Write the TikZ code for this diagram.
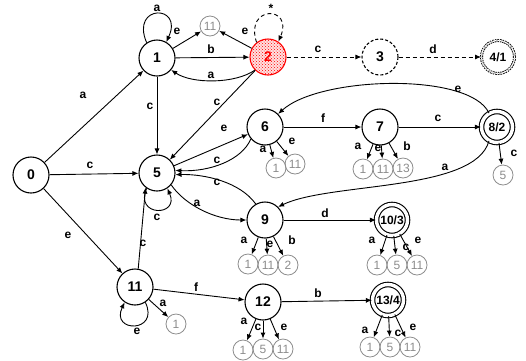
\documentclass[tikz,border=0pt]{standalone}
\usepackage{fontspec}
\setmainfont{Liberation Sans}
\usetikzlibrary{arrows.meta,patterns}
\definecolor{ghost}{RGB}{140,140,140}
\begin{document}
\begin{tikzpicture}[x=1pt,y=-1pt,
  >={Latex[length=6pt,width=5pt]},
  st/.style={circle, draw, line width=1.1pt, minimum size=36pt, inner sep=0pt,
             font=\fontsize{14}{14}\selectfont\bfseries},
  acc/.style={st, minimum size=31pt, double, double distance=3.4pt,
             font=\fontsize{12}{12}\selectfont\bfseries},
  gr/.style={circle, draw=ghost, text=ghost, line width=0.8pt, minimum size=20pt,
             inner sep=0pt, font=\fontsize{12}{12}\selectfont},
  tr/.style={->, line width=0.9pt},
  dtr/.style={tr, dash pattern=on 4pt off 3pt},
  lbl/.style={font=\fontsize{12}{12}\selectfont\bfseries, inner sep=0pt}]
\useasboundingbox (0,0) rectangle (526,360);

% states
\node[st] (n0) at (31,175) {0};
\node[st] (n1) at (157,58) {1};
\node[st, draw=red, text=red, preaction={fill=red!12},
      pattern=crosshatch dots, pattern color=red] (n2) at (268,57) {2};
\node[st, dash pattern=on 3pt off 2pt] (n3) at (380,57) {3};
\node[acc, dash pattern=on 1.5pt off 1pt, double distance=1.2pt, line width=0.9pt,
      minimum size=33pt] (n4) at (498,57) {4/1};
\node[st] (n5) at (157,173) {5};
\node[st] (n6) at (265,127) {6};
\node[st] (n7) at (380,127) {7};
\node[acc] (n8) at (497,127) {8/2};
\node[st] (n9) at (265,220) {9};
\node[acc] (n10) at (392,220) {10/3};
\node[st] (n11) at (135,287) {11};
\node[st] (n12) at (263,302) {12};
\node[acc] (n13) at (388,300) {13/4};

% references to states (grey stubs)
\node[gr] (g1) at (210,26) {11};
\node[gr] (g6a) at (276,168) {1};
\node[gr] (g6e) at (295,164) {11};
\node[gr] (g7a) at (363,169) {1};
\node[gr] (g7e) at (383,169) {11};
\node[gr] (g7b) at (403,168) {13};
\node[gr] (g8c) at (503,175) {5};
\node[gr] (g9a) at (248,264) {1};
\node[gr] (g9e) at (268,265) {11};
\node[gr] (g9b) at (288,265) {2};
\node[gr] (g10a) at (377,265) {1};
\node[gr] (g10c) at (397,265) {5};
\node[gr] (g10e) at (417,265) {11};
\node[gr] (g11a) at (176,324) {1};
\node[gr] (g12a) at (243,350) {1};
\node[gr] (g12c) at (263,349) {5};
\node[gr] (g12e) at (283,349) {11};
\node[gr] (g13a) at (370,347) {1};
\node[gr] (g13c) at (390,347) {5};
\node[gr] (g13e) at (410,347) {11};

% transitions
\draw[tr] (n0) -- (n1) node[lbl] at (83,95) {a};
\draw[tr] (n0) -- (n5) node[lbl] at (90,165) {c};
\draw[tr] (n0) -- (n11) node[lbl] at (68,235) {e};

\draw[tr] (n1.124) .. controls (130,4) and (184,4) .. (n1.60) node[lbl] at (157,8) {a};
\draw[tr] (n1) -- (g1) node[lbl] at (177,31) {e};
\draw[tr] (n2) -- (g1) node[lbl] at (245,31) {e};
\draw[tr] (n1) -- (n2) node[lbl] at (211,49) {b};
\draw[tr] (n2.225) .. controls (235,84) and (192,84) .. (n1.-40) node[lbl] at (211,75) {a};
\draw[dtr] (n2.128) .. controls (244,5) and (294,5) .. (n2.56) node[lbl] at (271,8) {*};
\draw[dtr] (n2) -- (n3) node[lbl] at (318,49) {c};
\draw[dtr] (n3) -- (n4) node[lbl] at (433,49) {d};

\draw[tr] (n1) -- (n5) node[lbl] at (150,106) {c};
\draw[tr] (n2) -- (n5) node[lbl] at (217,102) {c};

\draw[tr] (n5) -- (n6) node[lbl] at (224,128) {e};
\draw[tr] (n6.220) .. controls (242,160) and (210,172) .. (n5.8) node[lbl] at (217,160) {c};
\draw[tr] (n9.120) .. controls (240,182) and (205,174) .. (n5.-5) node[lbl] at (217,182) {c};
\draw[tr] (n5.-40) .. controls (185,205) and (215,220) .. (n9.180) node[lbl] at (197,203) {a};
\draw[tr] (n5.236) .. controls (134,217) and (180,217) .. (n5.-56) node[lbl] at (157,217) {c};

\draw[tr] (n6) -- (n7) node[lbl] at (323,118) {f};
\draw[tr] (n7) -- (n8) node[lbl] at (438,118) {c};
\draw[tr] (n8.120) .. controls (470,72) and (320,76) .. (n6.45) node[lbl] at (458,89) {e};
\draw[tr] (n8.240) .. controls (475,192) and (330,182) .. (n9.45) node[lbl] at (445,167) {a};
\draw[tr] (n8) -- (g8c) node[lbl] at (514,153) {c};

\draw[tr] (n6) -- (g6a) node[lbl] at (263,149) {a};
\draw[tr] (n6) -- (g6e) node[lbl] at (292,141) {e};
\draw[tr] (n7) -- (g7a) node[lbl] at (358,146) {a};
\draw[tr] (n7) -- (g7e) node[lbl] at (378,148) {e};
\draw[tr] (n7) -- (g7b) node[lbl] at (407,146) {b};

\draw[tr] (n9) -- (n10) node[lbl] at (325,213) {d};
\draw[tr] (n9) -- (g9a) node[lbl] at (244,240) {a};
\draw[tr] (n9) -- (g9e) node[lbl] at (270,244) {e};
\draw[tr] (n9) -- (g9b) node[lbl] at (292,240) {b};
\draw[tr] (n10) -- (g10a) node[lbl] at (372,240) {a};
\draw[tr] (n10) -- (g10c) node[lbl] at (406,247) {c};
\draw[tr] (n10) -- (g10e) node[lbl] at (418,240) {e};

\draw[tr] (n11.80) -- (n5.232) node[lbl] at (143,243) {c};
\draw[tr] (n11.-56) .. controls (160,333) and (110,333) .. (n11.236) node[lbl] at (137,331) {e};
\draw[tr] (n11) -- (g11a) node[lbl] at (163,303) {a};
\draw[tr] (n11) -- (n12) node[lbl] at (196,287) {f};
\draw[tr] (n12) -- (n13) node[lbl] at (318,293) {b};

\draw[tr] (n12) -- (g12a) node[lbl] at (244,321) {a};
\draw[tr] (n12) -- (g12c) node[lbl] at (258,327) {c};
\draw[tr] (n12) -- (g12e) node[lbl] at (284,327) {e};
\draw[tr] (n13) -- (g13a) node[lbl] at (365,330) {a};
\draw[tr] (n13) -- (g13c) node[lbl] at (398,333) {c};
\draw[tr] (n13) -- (g13e) node[lbl] at (413,327) {e};
\end{tikzpicture}
\end{document}
